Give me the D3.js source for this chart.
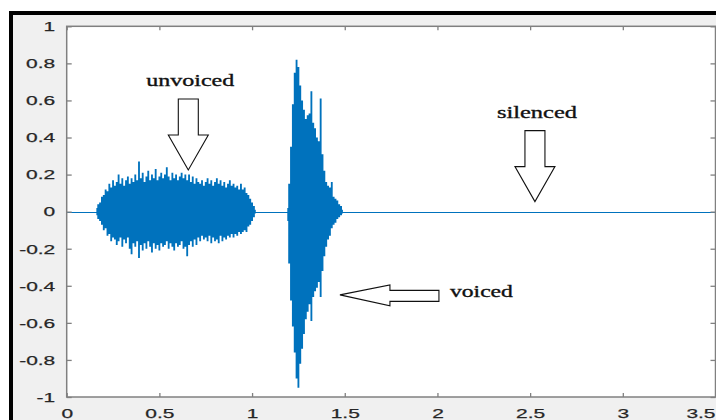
<!DOCTYPE html>
<html>
<head>
<meta charset="utf-8">
<script src="https://cdn.jsdelivr.net/npm/d3@7"></script>
<style>
  body { margin: 0; background: #fff; }
  svg { display: block; }
</style>
</head>
<body>
<svg id="chart"></svg>
<script>
// time axis (s) and amplitude ticks
var xTicks = [0, 0.5, 1, 1.5, 2, 2.5, 3, 3.5];
var yTicks = [-1, -0.8, -0.6, -0.4, -0.2, 0, 0.2, 0.4, 0.6, 0.8, 1];

// unvoiced part: [time, upper envelope, lower envelope]
var unvoiced = [
  [0.16, 0.02, -0.02], [0.17, 0.04, -0.04], [0.18, 0.05, -0.05], [0.19, 0.08, -0.07],
  [0.20, 0.09, -0.10], [0.21, 0.12, -0.09], [0.22, 0.11, -0.13], [0.23, 0.15, -0.12],
  [0.24, 0.13, -0.16], [0.25, 0.17, -0.14], [0.26, 0.14, -0.15], [0.27, 0.16, -0.18],
  [0.28, 0.20, -0.16], [0.29, 0.15, -0.14], [0.30, 0.18, -0.19], [0.31, 0.14, -0.15],
  [0.32, 0.17, -0.17], [0.33, 0.19, -0.14], [0.34, 0.15, -0.20], [0.35, 0.18, -0.23],
  [0.36, 0.16, -0.17], [0.37, 0.20, -0.19], [0.38, 0.17, -0.16], [0.39, 0.27, -0.25],
  [0.40, 0.18, -0.18], [0.41, 0.21, -0.21], [0.42, 0.16, -0.17], [0.43, 0.19, -0.20],
  [0.44, 0.22, -0.16], [0.45, 0.17, -0.19], [0.46, 0.20, -0.22], [0.47, 0.18, -0.17],
  [0.48, 0.23, -0.20], [0.49, 0.17, -0.18], [0.50, 0.19, -0.21], [0.51, 0.21, -0.17],
  [0.52, 0.18, -0.19], [0.53, 0.20, -0.18], [0.54, 0.24, -0.16], [0.55, 0.19, -0.20],
  [0.56, 0.17, -0.17], [0.57, 0.21, -0.19], [0.58, 0.18, -0.21], [0.59, 0.20, -0.17],
  [0.60, 0.17, -0.19], [0.61, 0.19, -0.18], [0.62, 0.21, -0.16], [0.63, 0.18, -0.20],
  [0.64, 0.20, -0.19], [0.65, 0.17, -0.24], [0.66, 0.20, -0.18], [0.67, 0.16, -0.16],
  [0.68, 0.19, -0.19], [0.69, 0.15, -0.15], [0.70, 0.18, -0.18], [0.71, 0.16, -0.14],
  [0.72, 0.15, -0.16], [0.73, 0.17, -0.13], [0.74, 0.14, -0.15], [0.75, 0.16, -0.14],
  [0.76, 0.18, -0.16], [0.77, 0.15, -0.13], [0.78, 0.17, -0.17], [0.79, 0.14, -0.14],
  [0.80, 0.16, -0.16], [0.81, 0.18, -0.15], [0.82, 0.15, -0.17], [0.83, 0.17, -0.13],
  [0.84, 0.14, -0.16], [0.85, 0.16, -0.14], [0.86, 0.13, -0.15], [0.87, 0.15, -0.13],
  [0.88, 0.17, -0.14], [0.89, 0.14, -0.12], [0.90, 0.15, -0.14], [0.91, 0.13, -0.12],
  [0.92, 0.14, -0.13], [0.93, 0.12, -0.11], [0.94, 0.15, -0.12], [0.95, 0.12, -0.11],
  [0.96, 0.13, -0.10], [0.97, 0.10, -0.11], [0.98, 0.09, -0.08], [0.99, 0.07, -0.07],
  [1.00, 0.05, -0.05], [1.01, 0.03, -0.03], [1.02, 0.01, -0.01]
];

// voiced part: [time, upper envelope, lower envelope]
var voiced = [
  [1.19, 0.02, -0.05], [1.20, 0.15, -0.28], [1.21, 0.35, -0.48], [1.22, 0.58, -0.62],
  [1.23, 0.75, -0.76], [1.24, 0.82, -0.90], [1.25, 0.78, -0.95], [1.26, 0.68, -0.82],
  [1.27, 0.60, -0.74], [1.28, 0.55, -0.66], [1.29, 0.50, -0.58], [1.30, 0.52, -0.54],
  [1.31, 0.53, -0.50], [1.32, 0.65, -0.59], [1.33, 0.48, -0.46], [1.34, 0.45, -0.43],
  [1.35, 0.40, -0.41], [1.36, 0.38, -0.38], [1.37, 0.61, -0.46], [1.38, 0.31, -0.32],
  [1.39, 0.22, -0.24], [1.40, 0.16, -0.19], [1.41, 0.14, -0.15], [1.42, 0.13, -0.13],
  [1.43, 0.16, -0.09], [1.44, 0.08, -0.07], [1.45, 0.07, -0.06], [1.46, 0.06, -0.04],
  [1.47, 0.04, -0.03], [1.48, 0.03, -0.02], [1.49, 0.01, -0.01]
];

// annotations: label, arrow tip in data units, direction
var labels = ["unvoiced", "silenced", "voiced"];
var arrowTips = [[0.656, 0.225], [2.526, 0.054], [1.474, -0.449]];
var arrowDirs = ["down", "down", "left"];

var width = 716;
var height = 420;
var plot = { left: 66.7, right: 715.5, top: 26.3, bottom: 397 };
var lineColor = "#0072BD";

var svg = d3.select("#chart").attr("width", width).attr("height", height);

// grey figure panel with thick black frame
svg.append("rect")
  .attr("x", 11).attr("y", 13)
  .attr("width", 800).attr("height", 500)
  .attr("fill", "#f0f0f0")
  .attr("stroke", "#000")
  .attr("stroke-width", 4);

var xScale = d3.scaleLinear().domain([0, 3.5]).range([plot.left, plot.right]);
var yScale = d3.scaleLinear().domain([-1, 1]).range([plot.bottom, plot.top]);

svg.append("rect")
  .attr("x", plot.left).attr("y", plot.top)
  .attr("width", plot.right - plot.left)
  .attr("height", plot.bottom - plot.top)
  .attr("fill", "#fff");

svg.append("clipPath").attr("id", "plotclip")
  .append("rect")
  .attr("x", plot.left).attr("y", plot.top)
  .attr("width", plot.right - plot.left)
  .attr("height", plot.bottom - plot.top);

var g = svg.append("g").attr("clip-path", "url(#plotclip)");

// silent baseline across the whole record
var zeroY = Math.round(yScale(0)) + 0.5;
g.append("line")
  .attr("x1", xScale(0)).attr("x2", xScale(3.5))
  .attr("y1", zeroY).attr("y2", zeroY)
  .attr("stroke", lineColor)
  .attr("stroke-width", 1);

var area = d3.area()
  .x(d => xScale(d[0]))
  .y0(d => yScale(d[2]))
  .y1(d => yScale(d[1]))
  .curve(d3.curveStep);

g.selectAll(".wave")
  .data([unvoiced, voiced])
  .enter().append("path")
  .attr("class", "wave")
  .attr("d", area)
  .attr("fill", lineColor);

// axes, ticks pointing inward like matlab
var axisColor = "#808080";
var tickFont = "'Liberation Sans', Arial, sans-serif";

function styleAxis(sel) {
  sel.select(".domain").remove();
  sel.selectAll("line").attr("stroke", axisColor).attr("stroke-width", 1.3);
  sel.selectAll("text")
    .attr("fill", "#262626")
    .style("font-family", tickFont)
    .style("font-size", "13.5px")
    .style("stroke", "#262626")
    .style("stroke-width", 0.25)
    .each(function () {
      var len = this.getComputedTextLength();
      d3.select(this).attr("textLength", len * 1.55).attr("lengthAdjust", "spacingAndGlyphs");
    });
}

var xAxis = svg.append("g")
  .attr("transform", `translate(0,${plot.bottom})`)
  .call(d3.axisBottom(xScale).tickValues(xTicks).tickFormat(d => String(d)).tickSize(-4).tickPadding(11))
  .call(styleAxis);

// last label sits against the window edge, as in the original
xAxis.selectAll(".tick")
  .filter(d => d == 3.5)
  .select("text")
  .attr("text-anchor", "end")
  .attr("x", width - 1 - plot.right);

svg.append("g")
  .attr("transform", `translate(${plot.left},0)`)
  .call(d3.axisLeft(yScale).tickValues(yTicks).tickFormat(d => String(d)).tickSize(-5).tickPadding(11.5))
  .call(styleAxis);

svg.append("g")
  .attr("transform", `translate(0,${plot.top})`)
  .call(d3.axisTop(xScale).tickValues(xTicks).tickFormat("").tickSize(-4))
  .call(styleAxis);

svg.append("g")
  .attr("transform", `translate(${plot.right},0)`)
  .call(d3.axisRight(yScale).tickValues(yTicks).tickFormat("").tickSize(-5))
  .call(styleAxis);

svg.append("rect")
  .attr("x", plot.left).attr("y", plot.top)
  .attr("width", plot.right - plot.left)
  .attr("height", plot.bottom - plot.top)
  .attr("fill", "none")
  .attr("stroke", axisColor)
  .attr("stroke-width", 1.5);

// block arrows with serif labels
var labelWidths = [88, 80, 63];

labels.forEach(function (label, i) {
  var tx = xScale(arrowTips[i][0]);
  var ty = yScale(arrowTips[i][1]);
  var pts, textX, textY, anchor;

  if (arrowDirs[i] == "down") {
    pts = [[tx, ty], [tx - 20, ty - 35], [tx - 10, ty - 35], [tx - 10, ty - 71],
           [tx + 10, ty - 71], [tx + 10, ty - 35], [tx + 20, ty - 35]];
    textX = tx + 2;
    textY = ty - 84;
    anchor = "middle";
  } else {
    pts = [[tx, ty], [tx + 50, ty - 10], [tx + 50, ty - 4.5], [tx + 99, ty - 4.5],
           [tx + 99, ty + 6.5], [tx + 50, ty + 6.5], [tx + 50, ty + 11]];
    textX = tx + 110;
    textY = ty + 2;
    anchor = "start";
  }

  svg.append("polygon")
    .attr("points", pts.map(p => p.join(",")).join(" "))
    .attr("fill", "#fff")
    .attr("stroke", "#111")
    .attr("stroke-width", 1.1);

  svg.append("text")
    .attr("x", textX)
    .attr("y", textY)
    .attr("text-anchor", anchor)
    .attr("fill", "#111")
    .attr("textLength", labelWidths[i])
    .attr("lengthAdjust", "spacingAndGlyphs")
    .style("font-family", "'Liberation Serif', 'Times New Roman', serif")
    .style("font-size", "17px")
    .style("stroke", "#111")
    .style("stroke-width", 0.35)
    .text(label);
});
</script>
</body>
</html>
